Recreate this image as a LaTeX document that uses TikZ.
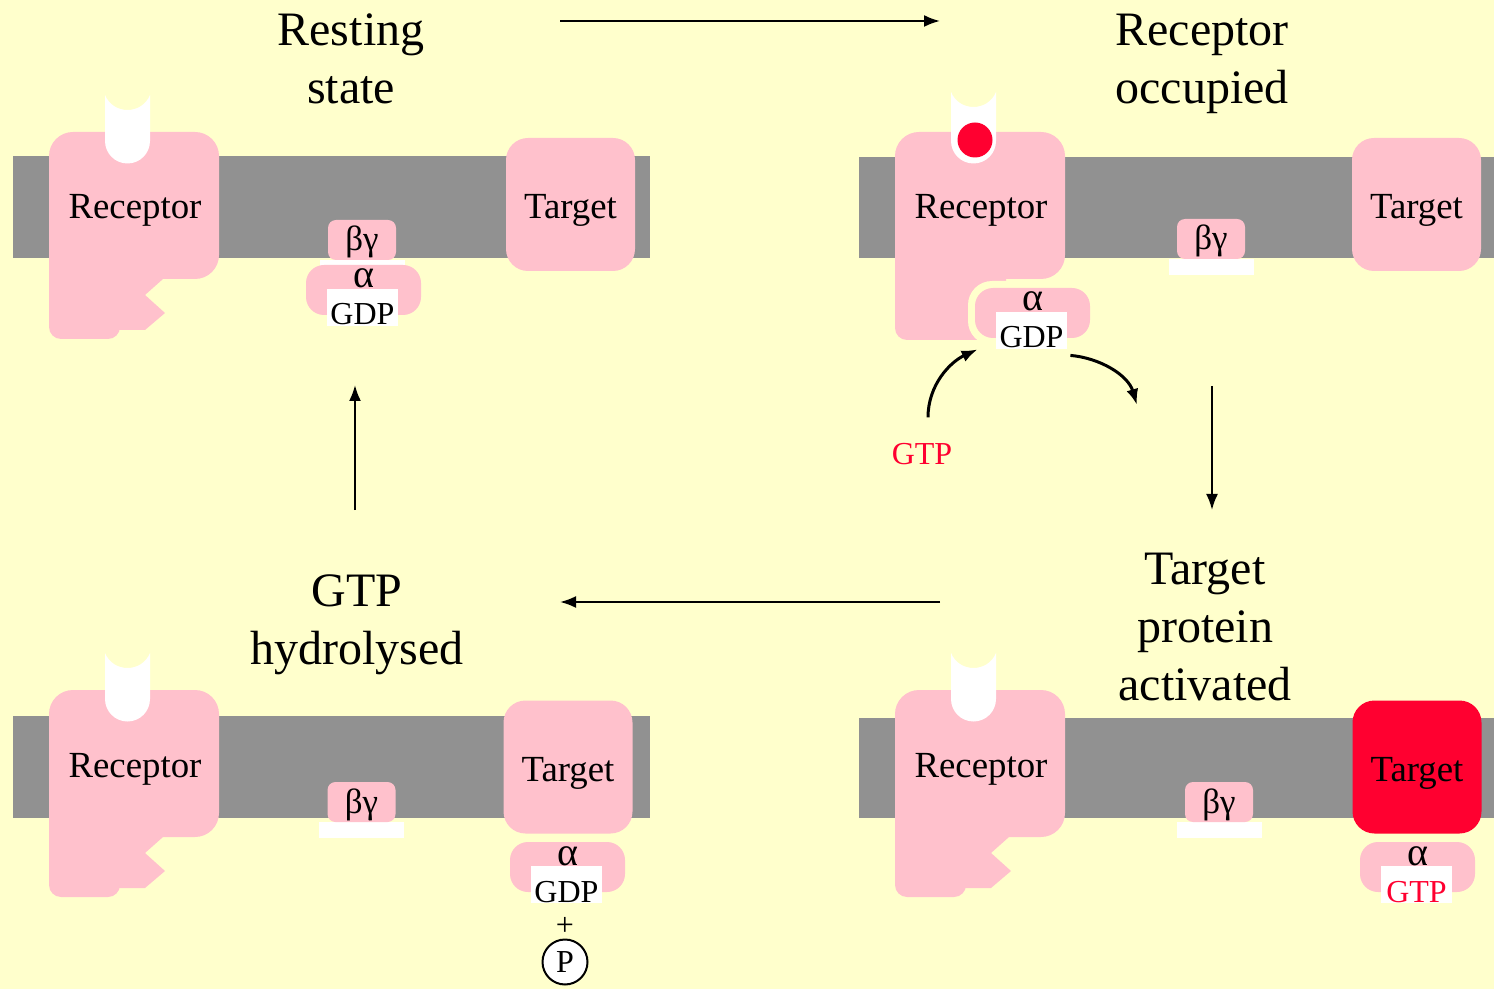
\documentclass[tikz,border=0pt]{standalone}
\usepackage{fontspec}
\setmainfont{Liberation Serif}
\usetikzlibrary{arrows.meta}
\tikzset{>={Latex[width=6pt,length=8pt]}}

\definecolor{bgyellow}{HTML}{FFFFCC}
\definecolor{memgray}{HTML}{919191}
\definecolor{protpink}{HTML}{FFC1CC}
\definecolor{actred}{HTML}{FF0030}

\tikzset{
  protein/.style={fill=protpink},
  namelabel/.style={font=\fontsize{18.4}{22}\selectfont, inner sep=0pt},
  sublabel/.style={font=\fontsize{16}{19}\selectfont, inner sep=0pt},
  title/.style={font=\fontsize{24}{29}\selectfont, align=center, inner sep=0pt},
  targetbox/.style={namelabel, fill=protpink, rounded corners=11pt, minimum width=64.5pt,
    minimum height=66.5pt, text height=14pt, text depth=0pt},
  bgbox/.style={sublabel, font=\fontsize{17.5}{20}\selectfont, fill=protpink, rounded corners=4pt,
    minimum width=34pt, minimum height=20pt, text height=11pt, text depth=0pt},
  alphapill/.style={sublabel, font=\fontsize{20}{22}\selectfont, fill=protpink, rounded corners=9pt,
    minimum width=57.5pt, minimum height=25pt, text height=0pt, text depth=2pt},
  nucbox/.style={sublabel, fill=white, minimum width=35.5pt, minimum height=18.5pt,
    text height=17.5pt, text depth=0pt},
  cycle arrow/.style={->, line width=1.1pt},
  swap arrow/.style={->, line width=1.5pt},
}

\begin{document}
\begin{tikzpicture}[x=0.5pt,y=-0.5pt]
  \newcommand\receptor[3]{%
    \begin{scope}[shift={(#2,#3)}]
      \fill[protein,rounded corners=12pt] (49,132) rectangle (219,279);
      \fill[protein,rounded corners=6pt] (49,200) rectangle (120,339);
      \fill[protein] (110,279) -- (163,279) -- (145,295) -- (165,313) -- (145,330) -- (110,330) -- cycle;
      \fill[white] (105,95) -- (105,141) arc[start angle=180,end angle=0,radius=22.5]
        -- (150,95) .. controls (142,115) and (113,115) .. (105,95);
      \node[namelabel,anchor=base] (#1) at (135,219) {Receptor};
    \end{scope}}
  \newcommand\betagamma[3]{%
    \fill[white] (#2-42.5,#3+40) rectangle (#2+42.5,#3+56);
    \node[bgbox] (#1) at (#2,#3+20) {βγ};}
  \newcommand\alphaunit[5]{%
    \node[alphapill] (#1) at (#2+57.5,#3+25) {α};
    \node[nucbox,text=#5] (#1nuc) at (#2+56.5,#3+42.5) {#4};}

  \fill[bgyellow] (0,0) rectangle (1494,989);
  \useasboundingbox (0,0) rectangle (1494,989);

  % membranes
  \fill[memgray] (13,156) rectangle (650,258);
  \fill[memgray] (859,157) rectangle (1494,258);
  \fill[memgray] (13,716) rectangle (650,818);
  \fill[memgray] (859,718) rectangle (1494,818);

  % resting state
  \receptor{recA}{0}{0}
  \node[targetbox] (tgtA) at (570.5,204.5) {Target};
  \betagamma{bgA}{362}{220}
  \alphaunit{alphaA}{306}{265}{GDP}{black}

  % receptor occupied
  \begin{scope}[shift={(846,0)}]
    \fill[protein,rounded corners=12pt] (49,132) rectangle (219,279);
    \fill[protein,rounded corners=6pt] (49,200) rectangle (160,340);
    \fill[bgyellow,rounded corners=12pt] (122,281) rectangle (251,345);
    \fill[white] (105,92) -- (105,141) arc[start angle=180,end angle=0,radius=22.5]
      -- (150,92) .. controls (142,112) and (113,112) .. (105,92);
    \fill[actred] (129,140) circle[radius=17.5];
    \node[namelabel,anchor=base] (recB) at (135,219) {Receptor};
  \end{scope}
  \node[targetbox] (tgtB) at (1416.5,204.5) {Target};
  \betagamma{bgB}{1211}{219}
  \alphaunit{alphaB}{975}{288}{GDP}{black}
  \node[sublabel,text=actred,anchor=base] (gtpB) at (922,465) {GTP};

  % GTP in, GDP out
  \coordinate (gtpup) at ([xshift=3pt,yshift=13pt]gtpB.north);
  \coordinate (gdpin) at ([xshift=-9pt]alphaBnuc.south west);
  \coordinate (gdpout) at ([xshift=1.5pt,yshift=-3pt]alphaBnuc.south east);
  \coordinate (gdpaway) at (1137,405);
  \draw[swap arrow] (gtpup) .. controls (928,385) and (950,362) .. (gdpin);
  \draw[swap arrow] (gdpout) .. controls (1100,358) and (1128,375) .. (gdpaway);

  % GTP hydrolysed
  \receptor{recC}{0}{558}
  \node[targetbox] (tgtC) at (568,767) {Target};
  \betagamma{bgC}{361.5}{782}
  \alphaunit{alphaC}{510}{842}{GDP}{black}
  \node[sublabel] (plusC) at (565,926) {+};
  \node[sublabel,draw,circle,line width=1pt,fill=white,minimum size=22.5pt] (phosC) at (565,962) {P};

  % target protein activated
  \receptor{recD}{846}{558}
  \node[targetbox,fill=actred] (tgtD) at (1417,767) {Target};
  \betagamma{bgD}{1219}{782}
  \alphaunit{alphaD}{1360}{842}{GTP}{actred}

  % titles (anchored on the last line)
  \node[title,anchor=base] (restT) at (351,104) {Resting\\state};
  \node[title,anchor=base] (occT) at (1202,104) {Receptor\\occupied};
  \node[title,anchor=base] (hydT) at (357,664) {GTP\\hydrolysed};
  \node[title,anchor=base] (actT) at (1205,700) {Target\\protein\\activated};

  % cycle arrows
  \coordinate (ab1) at (560,21);  \coordinate (ab2) at (940,21);
  \coordinate (bd1) at (1212,386); \coordinate (bd2) at (1212,510);
  \coordinate (dc1) at (940,602); \coordinate (dc2) at (560,602);
  \coordinate (ca1) at (355,510); \coordinate (ca2) at (355,385);
  \draw[cycle arrow] (ab1) -- (ab2);
  \draw[cycle arrow] (bd1) -- (bd2);
  \draw[cycle arrow] (dc1) -- (dc2);
  \draw[cycle arrow] (ca1) -- (ca2);
\end{tikzpicture}
\end{document}
